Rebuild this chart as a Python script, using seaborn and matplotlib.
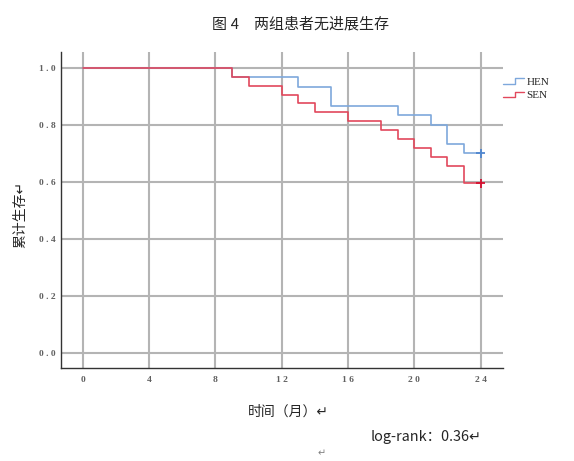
import numpy as np
import pandas as pd
import matplotlib
matplotlib.use("Agg")
import matplotlib.pyplot as plt
import seaborn as sns
from matplotlib.lines import Line2D
from matplotlib.legend_handler import HandlerLine2D

# Kaplan-Meier
HEN_TIME = [0, 9, 13, 15, 19, 21, 22, 23, 24]
HEN_SURV = [1.0, 0.967, 0.933, 0.867, 0.833, 0.800, 0.733, 0.700, 0.700]
SEN_TIME = [0, 9, 10, 12, 13, 14, 16, 18, 19, 20, 21, 22, 23, 24]
SEN_SURV = [1.0, 0.969, 0.938, 0.906, 0.875, 0.844, 0.813, 0.781, 0.750,
            0.719, 0.688, 0.656, 0.594, 0.594]
GROUPS = ["HEN", "SEN"]
CENSOR_TIME = [24, 24]
CENSOR_SURV = [0.700, 0.594]

X_TICKS = [0, 4, 8, 12, 16, 20, 24]
Y_TICKS = [0.0, 0.2, 0.4, 0.6, 0.8, 1.0]

TITLE = "图\u20054　两组患者无进展生存"
XLABEL = "时间（月）↵"
YLABEL = "累计生存↵"
NOTE = "log-rank：0.36↵"

COLORS = {"HEN": "#7ea8dc", "SEN": "#e2485c"}
CENSOR_COLORS = {"HEN": "#4f86cf", "SEN": "#d41030"}

CJK = ["Noto Sans CJK SC", "DejaVu Sans"]


class StepHandler(HandlerLine2D):
    # desenha o símbolo da legenda em forma de degrau
    def create_artists(self, legend, orig_handle, xdescent, ydescent,
                       width, height, fontsize, trans):
        x0, x1 = -xdescent, -xdescent + width
        xm = x0 + width * 0.55
        y0 = -ydescent + height * 0.1
        y1 = -ydescent + height * 0.8
        ln = Line2D([x0, xm, xm, x1], [y0, y0, y1, y1],
                    color=orig_handle.get_color(), lw=1.0)
        ln.set_transform(trans)
        return [ln]


df = pd.concat([
    pd.DataFrame({"time": HEN_TIME, "surv": HEN_SURV, "grupo": "HEN"}),
    pd.DataFrame({"time": SEN_TIME, "surv": SEN_SURV, "grupo": "SEN"}),
], ignore_index=True)
cens = pd.DataFrame({"time": CENSOR_TIME, "surv": CENSOR_SURV, "grupo": GROUPS})

sns.set_style("white")
plt.rcParams["font.family"] = CJK

fig = plt.figure(figsize=(5.74, 4.61), dpi=100)
ax = fig.add_axes([0.1063, 0.2017, 0.770, 0.685])

sns.lineplot(data=df, x="time", y="surv", hue="grupo", palette=COLORS,
             estimator=None, sort=False, drawstyle="steps-post",
             linewidth=1.2, legend=False, ax=ax, zorder=3)
sns.scatterplot(data=cens, x="time", y="surv", hue="grupo",
                palette=CENSOR_COLORS, marker="+", s=40, linewidth=1.3,
                legend=False, ax=ax, zorder=4)

ax.set_xlim(-1.31, 25.35)
ax.set_ylim(-0.054, 1.055)
ax.set_xticks(X_TICKS)
ax.set_yticks(Y_TICKS)
ax.set_xticklabels([" ".join(str(t)) for t in X_TICKS],
                   family="Liberation Serif", fontsize=6.8,
                   fontweight="bold", color="#606060")
ax.set_yticklabels([" ".join(f"{t:.1f}") for t in Y_TICKS],
                   family="Liberation Serif", fontsize=6.8,
                   fontweight="bold", color="#606060")
ax.tick_params(axis="both", length=0)
ax.tick_params(axis="x", pad=6)
ax.tick_params(axis="y", pad=4)
ax.grid(True, color="#b4b4b4", linewidth=1.5)
ax.set_axisbelow(True)
for s in ["top", "right"]:
    ax.spines[s].set_visible(False)
for s in ["left", "bottom"]:
    ax.spines[s].set_color("#333333")
    ax.spines[s].set_linewidth(1.0)
ax.set_xlabel("")
ax.set_ylabel("")

handles = [Line2D([], [], color=COLORS[g]) for g in GROUPS]
ax.legend(handles, GROUPS, loc="upper left", bbox_to_anchor=(1.0, 0.922),
          frameon=False, handler_map={Line2D: StepHandler()},
          handlelength=1.9, handletextpad=0.2, labelspacing=0.3,
          borderaxespad=0, borderpad=0,
          prop={"family": "Liberation Serif", "size": 8})

fig.text(0.523, 0.948, TITLE, ha="center", va="center", fontsize=10.8)
fig.text(0.035, 0.534, YLABEL, ha="center", va="center", rotation=90,
         fontsize=10)
fig.text(0.503, 0.106, XLABEL, ha="center", va="center", fontsize=10)
fig.text(0.742, 0.052, NOTE, ha="center", va="center", fontsize=10.4)
fig.text(0.560, 0.017, "↵", ha="center", va="center", fontsize=7,
         color="#808080", family="DejaVu Sans")

fig.savefig("out.png", dpi=100)
